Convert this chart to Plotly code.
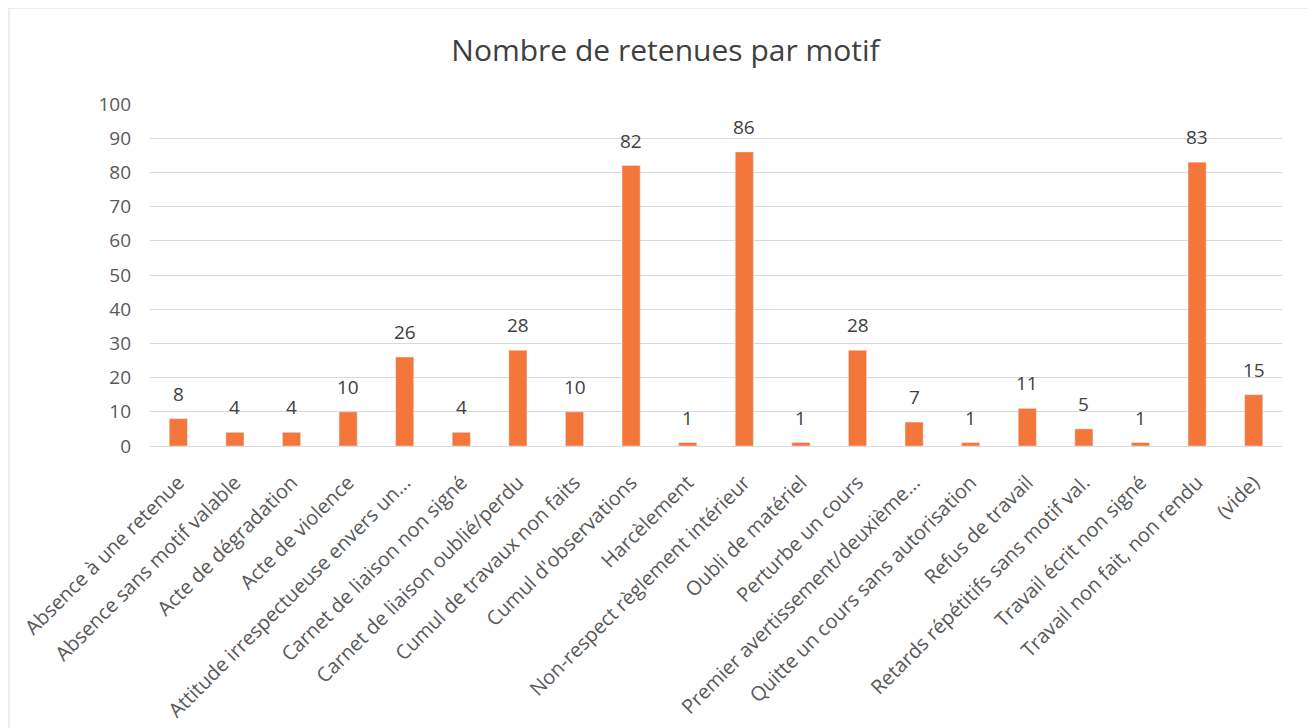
import plotly.graph_objects as go

categories = [
    "Absence à une retenue", "Absence sans motif valable", "Acte de dégradation",
    "Acte de violence", "Attitude irrespectueuse envers un...", "Carnet de liaison non signé",
    "Carnet de liaison oublié/perdu", "Cumul de travaux non faits", "Cumul d'observations",
    "Harcèlement", "Non-respect règlement intérieur", "Oubli de matériel",
    "Perturbe un cours", "Premier avertissement/deuxième...", "Quitte un cours sans autorisation",
    "Refus de travail", "Retards répétitifs sans motif val.", "Travail écrit non signé",
    "Travail non fait, non rendu", "(vide)",
]
values = [8, 4, 4, 10, 26, 4, 28, 10, 82, 1, 86, 1, 28, 7, 1, 11, 5, 1, 83, 15]
y_ticks = list(range(0, 101, 10))

W, H = 1315, 728
L, R, T, B = 142, 41, 96, 290
pw, ph = W - L - R, H - T - B

fig = go.Figure(go.Bar(
    x=categories, y=values,
    marker_color="#F3763A",
    hoverinfo="x+y",
))

for c, v in zip(categories, values):
    fig.add_annotation(x=c, y=v, text=str(v), showarrow=False,
                       yanchor="bottom", yshift=10,
                       font=dict(size=19, color="#404040"))

fig.update_layout(
    width=W, height=H,
    margin=dict(l=L, r=R, t=T, b=B),
    paper_bgcolor="white", plot_bgcolor="white",
    font=dict(family="Open Sans, sans-serif", color="#595959"),
    title=dict(text="Nombre de retenues par motif", x=0.5, xanchor="center",
               y=1 - 42 / H, yanchor="middle",
               font=dict(size=30, color="#404040")),
    bargap=0.68,
    showlegend=False,
)
fig.update_xaxes(tickangle=-45, tickfont=dict(size=20, color="#595959"),
                 showline=True, linecolor="#D9D9D9", ticks="", showgrid=False,
                 ticklabelstandoff=16, automargin=False)
fig.update_yaxes(range=[0, 100], tickvals=y_ticks, tickfont=dict(size=19, color="#595959"),
                 showgrid=True, gridcolor="#D9D9D9", zeroline=False, ticks="",
                 ticklabelstandoff=18, automargin=False)
fig.add_shape(type="rect", xref="paper", yref="paper",
              x0=(1 - L) / pw, x1=(1300 - L) / pw,
              y0=-(B - 2) / ph, y1=1 + (T - 0) / ph,
              line=dict(color="#D9D9D9", width=1))

fig.write_html("out.html")
